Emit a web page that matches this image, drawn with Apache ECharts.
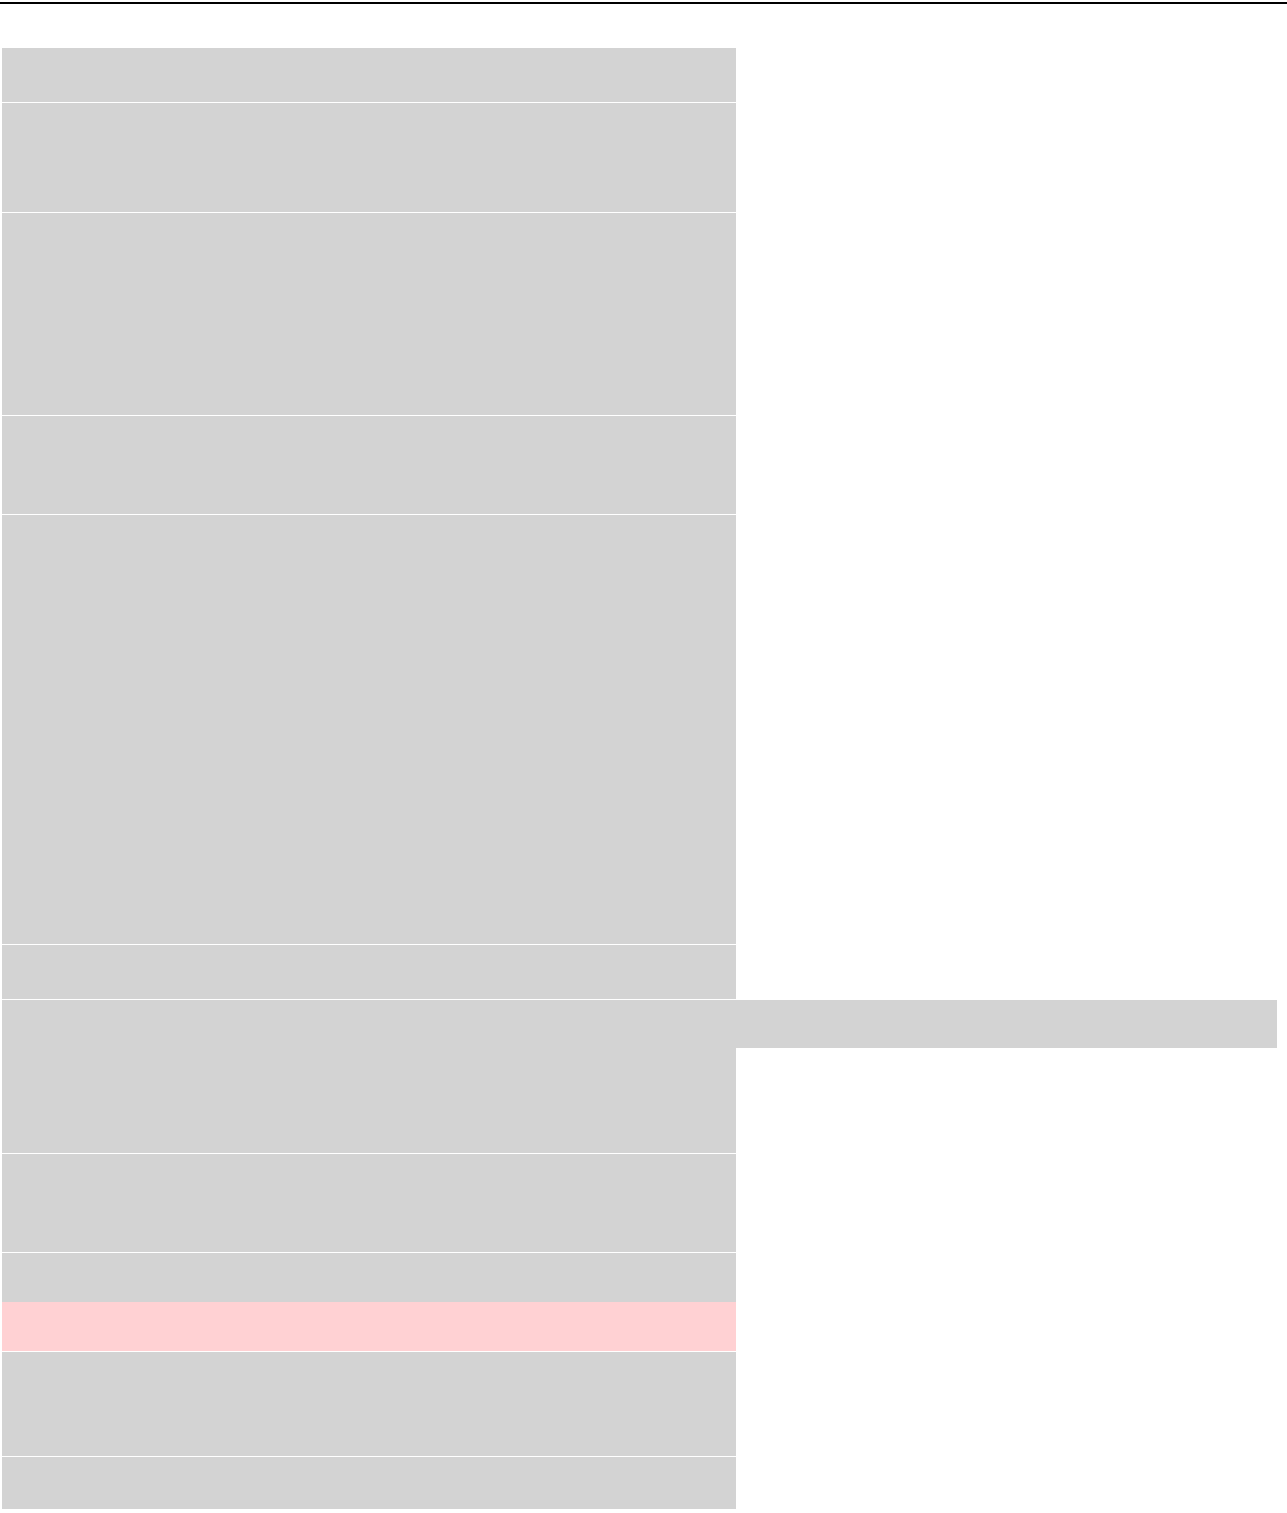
<!DOCTYPE html>
<html>
<head>
<meta charset="utf-8">
<script src="https://cdn.jsdelivr.net/npm/echarts@6/dist/echarts.min.js"></script>
<style>html,body{margin:0;padding:0;background:#fff}#c{width:1287px;height:1513px}</style>
</head>
<body>
<div id="c"></div>
<script>
// Row heights of the stacked blocks (value units)
const blockSizes = [55, 110, 203, 99, 430, 55, 154, 99, 99, 105, 53];
// Extent of every block along the horizontal value axis
const blockValue = 734;
// Overlay bands: start, end (vertical units), horizontal extent
const overlayStart = [952, 1254];
const overlayEnd = [1000, 1303];
const overlayValue = [1275, 734];
const overlayKind = ['wide', 'highlight'];

const blockData = [];
let acc = 0;
blockSizes.forEach(s => { blockData.push([acc, acc + s, blockValue]); acc += s; });
const total = acc;
const overlayData = overlayStart.map((s, i) => [s, overlayEnd[i], overlayValue[i], overlayKind[i]]);

const chart = echarts.init(document.getElementById('c'), null, {renderer: 'canvas'});

function rectItem(params, api, gap, color) {
  const p0 = api.coord([0, api.value(0)]);
  const p1 = api.coord([api.value(2), api.value(1)]);
  return {
    type: 'rect',
    shape: {x: p0[0], y: p0[1], width: p1[0] - p0[0], height: p1[1] - p0[1] - gap},
    style: {fill: color}
  };
}

chart.setOption({
  animation: false,
  backgroundColor: '#ffffff',
  grid: {left: 2, right: 10, top: 48, bottom: 3},
  xAxis: {type: 'value', min: 0, max: 1275, show: false},
  yAxis: {type: 'value', min: 0, max: total, inverse: true, show: false},
  graphic: [{
    type: 'line', shape: {x1: 0, y1: 3, x2: 1287, y2: 3},
    style: {stroke: '#000', lineWidth: 2}
  }],
  series: [{
    type: 'custom',
    data: blockData,
    renderItem: (params, api) => rectItem(params, api, 1, '#d3d3d3')
  }, {
    type: 'custom',
    data: overlayData,
    renderItem: (params, api) => rectItem(params, api, 0,
      overlayData[params.dataIndex][3] === 'highlight' ? '#ffd1d3' : '#d3d3d3')
  }]
});
</script>
</body>
</html>
